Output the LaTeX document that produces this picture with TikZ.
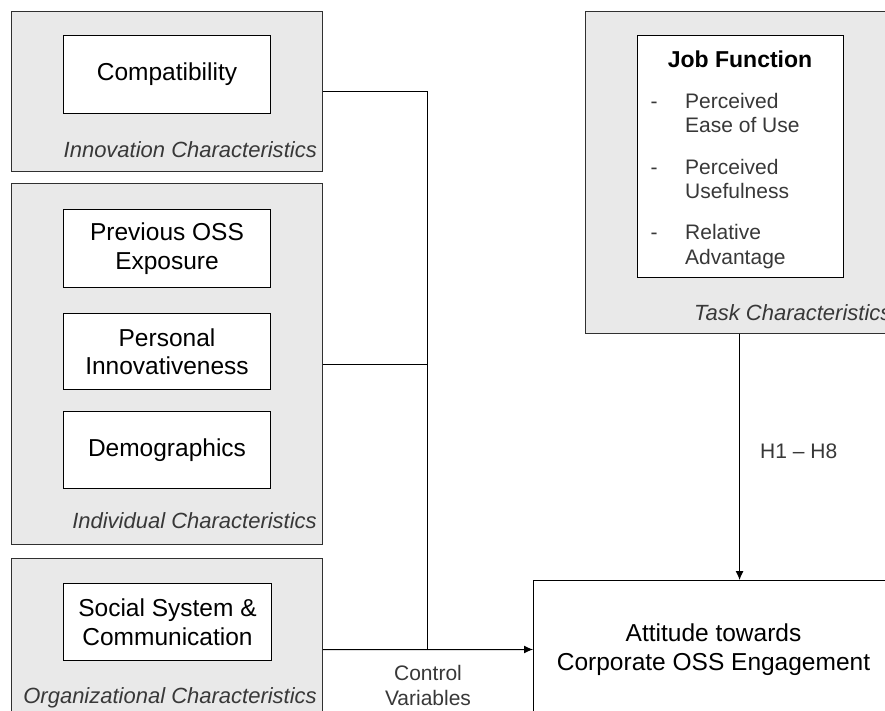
\documentclass[tikz,border=0pt]{standalone}
\usepackage{fontspec}
\setmainfont{Liberation Sans}
\usetikzlibrary{arrows.meta}
\definecolor{groupfill}{HTML}{E9E9E9}
\definecolor{edge}{HTML}{303030}
\definecolor{soft}{HTML}{383838}
\tikzset{
  group/.style={draw=edge, line width=1.1pt, fill=groupfill, anchor=north west, inner sep=0pt},
  factor/.style={draw=black, line width=1pt, fill=white, anchor=north west, inner sep=0pt,
    align=center, font=\fontsize{24.5}{28.5}\selectfont},
  grouplabel/.style={anchor=base east, inner sep=0pt, text=soft,
    font=\fontsize{22}{24}\selectfont\itshape},
  item/.style={anchor=base west, inner sep=0pt, text=soft, font=\fontsize{21}{24}\selectfont},
  note/.style={inner sep=0pt, text=soft, align=center, font=\fontsize{21}{25}\selectfont},
  link/.style={draw=black, line width=1pt},
  arrowlink/.style={link, -{Latex[length=9pt,width=8pt]}}
}
\begin{document}
\begin{tikzpicture}[x=1pt, y=-1pt]
\useasboundingbox (0,0) rectangle (885,711);
\clip (0,0) rectangle (885,711);
\fill[white] (0,0) rectangle (885,711);

% characteristic groups
\node[group, minimum width=311pt, minimum height=160pt] (inno) at (11,11) {};
\node[group, minimum width=311pt, minimum height=361pt] (indiv) at (11,183) {};
\node[group, minimum width=311pt, minimum height=182pt] (org) at (11,558) {};
\node[group, minimum width=308pt, minimum height=322pt] (task) at (585,11) {};

% group captions
\node[grouplabel] (innolbl) at (317,158) {Innovation Characteristics};
\node[grouplabel] (indivlbl) at (317,528) {Individual Characteristics};
\node[grouplabel] (orglbl) at (317,703) {Organizational Characteristics};
\node[grouplabel, anchor=base west] (tasklbl) at (694,320) {Task Characteristics};

% factors
\node[factor, minimum width=207pt, minimum height=78pt] (compat) at (63,35) {Compatibility};
\node[factor, minimum width=207pt, minimum height=78pt] (prev) at (63,209) {Previous OSS\\Exposure};
\node[factor, minimum width=207pt, minimum height=76pt] (pers) at (63,313) {Personal\\Innovativeness};
\node[factor, minimum width=207pt, minimum height=77pt] (demo) at (63,411) {Demographics};
\node[factor, minimum width=208pt, minimum height=77pt] (social) at (63,583) {Social System \&\\Communication};
\node[factor, minimum width=206pt, minimum height=242pt] (job) at (637,35) {};

% job function contents
\node[anchor=base, inner sep=0pt, font=\fontsize{23}{26}\selectfont\bfseries] (jobtitle) at (740,68) {Job Function};
\node[item, anchor=base] (d1) at (654,109) {-};
\node[item] (i1a) at (685,109) {Perceived};
\node[item] (i1b) at (685,133) {Ease of Use};
\node[item, anchor=base] (d2) at (654,175) {-};
\node[item] (i2a) at (685,175) {Perceived};
\node[item] (i2b) at (685,199) {Usefulness};
\node[item, anchor=base] (d3) at (654,240) {-};
\node[item] (i3a) at (685,240) {Relative};
\node[item] (i3b) at (685,264) {Advantage};

% outcome
\node[factor, minimum width=360pt, minimum height=138pt, line width=1pt] (att) at (533,580)
  {Attitude towards\\[1pt]Corporate OSS Engagement};

% connectors
\coordinate (join) at (427,649);
\draw[link] (inno.east) -| (join);
\draw[link] (indiv.east) -- (indiv.east -| join);
\draw[arrowlink] (org.east) -- (att.west);
\draw[arrowlink] (task.south) -- (task.south |- att.north);

% connector labels
\node[note] (ctrl) at (428,685) {Control\\Variables};
\node[item] (hyp) at (760,458) {H1 – H8};
\end{tikzpicture}
\end{document}
